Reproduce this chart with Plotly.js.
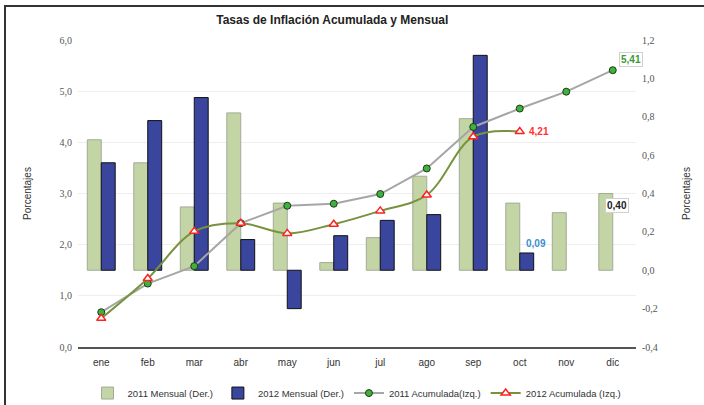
<!DOCTYPE html>
<html>
<head>
<meta charset="utf-8">
<script src="https://cdn.plot.ly/plotly-3.0.1.min.js"></script>
<style>
  html, body { margin: 0; padding: 0; background: #fff; }
  #wrap { position: relative; width: 704px; height: 405px; overflow: hidden; }
  #chart { width: 704px; height: 405px; }
  #frame { position: absolute; left: 4px; top: 5px; width: 710px; height: 420px;
           border-top: 2px solid #333; border-left: 2px solid #333; pointer-events: none; }
</style>
</head>
<body>
<div id="wrap">
  <div id="chart"></div>
  <div id="frame"></div>
</div>
<script>
const months = ['ene','feb','mar','abr','may','jun','jul','ago','sep','oct','nov','dic'];
const mensual2011 = [0.68, 0.56, 0.33, 0.82, 0.35, 0.04, 0.17, 0.49, 0.79, 0.35, 0.30, 0.40];
const mensual2012 = [0.56, 0.78, 0.90, 0.16, -0.20, 0.18, 0.26, 0.29, 1.12, 0.09];
const acum2011 = [0.68, 1.24, 1.58, 2.42, 2.76, 2.80, 2.99, 3.49, 4.30, 4.66, 4.99, 5.41];
const acum2012 = [0.56, 1.34, 2.26, 2.42, 2.22, 2.40, 2.66, 2.97, 4.11, 4.21];

const leftTicks = [0, 1, 2, 3, 4, 5, 6];
const leftLabels = ['0,0', '1,0', '2,0', '3,0', '4,0', '5,0', '6,0'];
const rightTicks = [-0.4, -0.2, 0, 0.2, 0.4, 0.6, 0.8, 1.0, 1.2];
const rightLabels = ['-0,4', '-0,2', '0,0', '0,2', '0,4', '0,6', '0,8', '1,0', '1,2'];

const tickFont = {family: 'Liberation Serif, serif', size: 10, color: '#555'};
const sans = 'Liberation Sans, Arial, sans-serif';

const traces = [
  {
    type: 'bar', name: '2011 Mensual (Der.)', x: months, y: mensual2011, yaxis: 'y',
    marker: {color: '#c3d4a5', line: {color: '#a3ab98', width: 1}}
  },
  {
    type: 'bar', name: '2012 Mensual (Der.)', x: months.slice(0, mensual2012.length), y: mensual2012, yaxis: 'y',
    marker: {color: '#3a469d', line: {color: '#111', width: 1}}
  },
  {
    type: 'scatter', mode: 'lines+markers', name: '2011 Acumulada(Izq.)', x: months, y: acum2011, yaxis: 'y2',
    line: {color: '#a6a6a6', width: 2},
    marker: {symbol: 'circle', size: 7, color: '#3fb13c', line: {color: '#1e3a1e', width: 1}}
  },
  {
    type: 'scatter', mode: 'lines+markers', name: '2012 Acumulada (Izq.)', x: months.slice(0, acum2012.length), y: acum2012, yaxis: 'y2',
    line: {color: '#77933c', width: 2, shape: 'spline', smoothing: 1},
    marker: {symbol: 'triangle-up', size: 8, color: '#ffffff', line: {color: '#ff2020', width: 1.5}}
  }
];

const layout = {
  width: 704, height: 405,
  margin: {l: 78, r: 68, t: 40, b: 58, autoexpand: false},
  paper_bgcolor: '#ffffff', plot_bgcolor: 'rgba(0,0,0,0)',
  font: {family: sans, size: 10, color: '#333'},
  title: {
    text: '<b>Tasas de Inflación Acumulada y Mensual</b>',
    font: {family: sans, size: 12, color: '#222'},
    x: 0.472, xref: 'container', xanchor: 'center',
    y: 0.95, yref: 'container', yanchor: 'middle'
  },
  barmode: 'group', bargap: 0.4, bargroupgap: 0,
  showlegend: true,
  legend: {
    orientation: 'h', x: 0.5, xanchor: 'center', y: -0.15, yanchor: 'middle',
    font: {family: sans, size: 9.5, color: '#333'}, itemwidth: 30, traceorder: 'normal'
  },
  xaxis: {
    type: 'category', range: [-0.5, 11.5], autorange: false,
    showline: true, linecolor: '#555', linewidth: 1.5, automargin: false, ticklabelstandoff: 5,
    ticks: '', showgrid: false, tickfont: {family: sans, size: 10, color: '#333'}
  },
  yaxis: {
    side: 'right', range: [-0.4, 1.2], tickvals: rightTicks, ticktext: rightLabels, automargin: false,
    showgrid: false, zeroline: false, showline: false, ticks: '', tickfont: tickFont, ticklabelstandoff: 5,
    title: {text: 'Porcentajes', font: {family: sans, size: 10, color: '#333'}, standoff: 26}
  },
  yaxis2: {
    side: 'left', overlaying: 'y', range: [0, 6], tickvals: leftTicks, ticktext: leftLabels, automargin: false,
    showgrid: true, gridcolor: '#eeeeee', gridwidth: 1, zeroline: false, showline: false, ticks: '',
    tickfont: tickFont, ticklabelstandoff: 5,
    title: {text: 'Porcentajes', font: {family: sans, size: 10, color: '#333'}, standoff: 26}
  },
  annotations: [
    {x: 'dic', y: acum2011[11], xref: 'x', yref: 'y2', text: '<b>5,41</b>', showarrow: false,
     xshift: 18, yshift: 11, font: {family: sans, size: 10, color: '#3a9a3a'},
     bgcolor: '#fff', bordercolor: '#d0d0d0', borderwidth: 1, borderpad: 1},
    {x: 'oct', y: acum2012[9], xref: 'x', yref: 'y2', text: '<b>4,21</b>', showarrow: false,
     xshift: 19, yshift: 0, font: {family: sans, size: 10, color: '#ff3333'}},
    {x: 'oct', y: mensual2012[9], xref: 'x', yref: 'y', text: '<b>0,09</b>', showarrow: false,
     xshift: 16, yshift: 9, font: {family: sans, size: 10, color: '#3a8fd0'}},
    {x: 'dic', y: mensual2011[11], xref: 'x', yref: 'y', text: '<b>0,40</b>', showarrow: false,
     xshift: 4, yshift: -12, font: {family: sans, size: 10, color: '#222'},
     bgcolor: '#fff', bordercolor: '#d0d0d0', borderwidth: 1, borderpad: 1}
  ]
};

Plotly.newPlot('chart', traces, layout, {displayModeBar: false, staticPlot: true});
</script>
</body>
</html>
